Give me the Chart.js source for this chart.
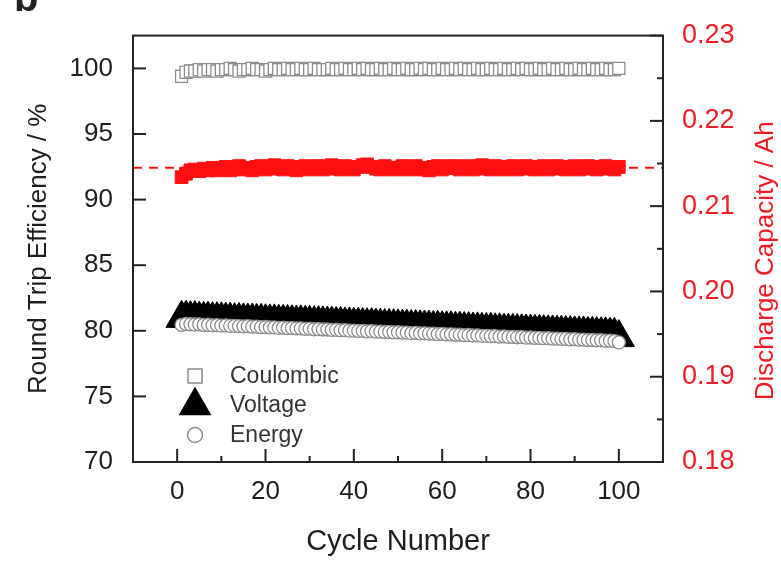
<!DOCTYPE html>
<html>
<head>
<meta charset="utf-8">
<title>Round trip efficiency</title>
<script src="https://cdn.jsdelivr.net/npm/chart.js@4.4.1/dist/chart.umd.min.js"></script>
<style>
  html, body { margin: 0; padding: 0; background: #fff; }
  #wrap { position: relative; width: 781px; height: 563px; overflow: hidden; }
  #panel { position: absolute; left: 14px; top: -25px; font: bold 40px 'Liberation Sans', Arial, sans-serif; color: #222; }
</style>
</head>
<body>
<div id="wrap">
  <canvas id="chart" width="781" height="563"></canvas>
  <div id="panel">b</div>
</div>
<script>
// --- data ---
const cycles = [
  1, 2, 3, 4, 5, 6, 7, 8, 9, 10, 11, 12, 13, 14, 15, 16, 17, 18, 19, 20,
  21, 22, 23, 24, 25, 26, 27, 28, 29, 30, 31, 32, 33, 34, 35, 36, 37, 38, 39, 40,
  41, 42, 43, 44, 45, 46, 47, 48, 49, 50, 51, 52, 53, 54, 55, 56, 57, 58, 59, 60,
  61, 62, 63, 64, 65, 66, 67, 68, 69, 70, 71, 72, 73, 74, 75, 76, 77, 78, 79, 80,
  81, 82, 83, 84, 85, 86, 87, 88, 89, 90, 91, 92, 93, 94, 95, 96, 97, 98, 99, 100
];

const coulombic = [
  99.4, 99.7, 99.8, 99.8, 99.9, 99.8, 99.9, 99.9, 99.8, 99.9,
  99.9, 100.0, 99.9, 99.8, 99.9, 99.9, 100.0, 99.9, 99.9, 99.8,
  99.9, 100.0, 99.9, 99.9, 100.0, 99.9, 99.9, 100.0, 99.9, 99.9,
  100.0, 99.9, 99.9, 99.9, 100.0, 99.9, 99.9, 100.0, 99.9, 99.9,
  100.0, 99.9, 100.0, 99.9, 99.9, 100.0, 99.9, 99.9, 100.0, 99.9,
  99.9, 100.0, 99.9, 99.9, 100.0, 99.9, 100.0, 99.9, 99.9, 100.0,
  99.9, 99.9, 100.0, 99.9, 100.0, 99.9, 99.9, 100.0, 99.9, 99.9,
  100.0, 99.9, 99.9, 100.0, 99.9, 99.9, 100.0, 99.9, 100.0, 99.9,
  99.9, 100.0, 99.9, 99.9, 100.0, 99.9, 99.9, 100.0, 99.9, 99.9,
  100.0, 99.9, 99.9, 100.0, 99.9, 99.9, 100.0, 99.9, 99.9, 100.0
];

const voltage = [
  80.95, 80.96, 80.92, 80.93, 80.89, 80.88, 80.89, 80.85, 80.84, 80.84,
  80.81, 80.81, 80.78, 80.79, 80.76, 80.74, 80.75, 80.71, 80.72, 80.69,
  80.68, 80.68, 80.65, 80.64, 80.64, 80.61, 80.60, 80.60, 80.57, 80.57,
  80.54, 80.55, 80.52, 80.51, 80.51, 80.48, 80.48, 80.45, 80.45, 80.42,
  80.43, 80.40, 80.39, 80.39, 80.36, 80.36, 80.33, 80.33, 80.31, 80.30,
  80.28, 80.28, 80.25, 80.25, 80.23, 80.21, 80.21, 80.18, 80.19, 80.16,
  80.15, 80.15, 80.12, 80.12, 80.09, 80.09, 80.06, 80.07, 80.04, 80.03,
  80.03, 80.00, 80.00, 79.97, 79.97, 79.95, 79.94, 79.93, 79.91, 79.91,
  79.88, 79.88, 79.86, 79.85, 79.84, 79.82, 79.82, 79.79, 79.80, 79.77,
  79.76, 79.76, 79.73, 79.73, 79.71, 79.70, 79.69, 79.67, 79.66, 79.48
];

const energy = [
  80.45, 80.52, 80.50, 80.48, 80.49, 80.45, 80.46, 80.42, 80.43, 80.40,
  80.41, 80.37, 80.38, 80.35, 80.34, 80.35, 80.31, 80.32, 80.28, 80.29,
  80.26, 80.26, 80.23, 80.24, 80.20, 80.21, 80.18, 80.18, 80.15, 80.16,
  80.12, 80.13, 80.10, 80.10, 80.07, 80.08, 80.04, 80.05, 80.02, 80.02,
  79.99, 80.00, 79.96, 79.97, 79.94, 79.94, 79.91, 79.92, 79.88, 79.89,
  79.86, 79.86, 79.83, 79.84, 79.80, 79.81, 79.78, 79.78, 79.75, 79.76,
  79.72, 79.73, 79.70, 79.70, 79.67, 79.68, 79.64, 79.65, 79.62, 79.62,
  79.59, 79.60, 79.56, 79.57, 79.54, 79.54, 79.51, 79.52, 79.48, 79.49,
  79.46, 79.46, 79.43, 79.44, 79.40, 79.41, 79.38, 79.38, 79.35, 79.36,
  79.32, 79.33, 79.30, 79.30, 79.27, 79.28, 79.24, 79.25, 79.22, 79.12
];

const capacity = [
  0.2134, 0.2138, 0.2142, 0.2143, 0.2141, 0.2144, 0.2142, 0.2145, 0.2142, 0.2144,
  0.2146, 0.2142, 0.2144, 0.2147, 0.2143, 0.2145, 0.2142, 0.2146, 0.2147, 0.2143,
  0.2145, 0.2148, 0.2144, 0.2143, 0.2147, 0.2145, 0.2142, 0.2146, 0.2147, 0.2143,
  0.2145, 0.2147, 0.2143, 0.2146, 0.2148, 0.2144, 0.2143, 0.2147, 0.2145, 0.2143,
  0.2146, 0.2148, 0.2149, 0.2146, 0.2144, 0.2143, 0.2147, 0.2145, 0.2143, 0.2145,
  0.2147, 0.2143, 0.2145, 0.2147, 0.2143, 0.2145, 0.2142, 0.2146, 0.2147, 0.2143,
  0.2145, 0.2147, 0.2145, 0.2143, 0.2147, 0.2145, 0.2143, 0.2147, 0.2148, 0.2144,
  0.2143, 0.2147, 0.2145, 0.2143, 0.2146, 0.2147, 0.2143, 0.2145, 0.2147, 0.2144,
  0.2143, 0.2146, 0.2147, 0.2143, 0.2145, 0.2147, 0.2144, 0.2143, 0.2146, 0.2147,
  0.2143, 0.2145, 0.2147, 0.2144, 0.2143, 0.2146, 0.2147, 0.2144, 0.2143, 0.2146
];

const capacityRef = 0.2145;          // dashed guide on right axis
const xLabels = [0, 20, 40, 60, 80, 100];
const yLabels = [70, 75, 80, 85, 90, 95, 100];
const y1Labels = [0.18, 0.19, 0.20, 0.21, 0.22, 0.23];

const FONT = "'Liberation Sans', Arial, sans-serif";
const RED = '#ff1010';
const RED_TEXT = '#ee1c25';
const INK = '#1e1e1e';

const pts = vals => cycles.map((c, i) => ({ x: c, y: vals[i] }));
const near = (v, list) => list.some(l => Math.abs(l - v) < 1e-6);

// inward ticks, frame, legend and right title
const decor = {
  id: 'decor',
  afterDraw(chart) {
    const { ctx, chartArea: a, scales } = chart;
    ctx.save();
    ctx.strokeStyle = '#222';
    ctx.lineWidth = 2;

    const seg = (x1, y1, x2, y2) => { ctx.beginPath(); ctx.moveTo(x1, y1); ctx.lineTo(x2, y2); ctx.stroke(); };

    scales.x.ticks.forEach(t => {
      if (t.value <= scales.x.min || t.value >= scales.x.max) return;
      const px = scales.x.getPixelForValue(t.value);
      const len = near(t.value, xLabels) ? 13 : 6;
      seg(px, a.bottom, px, a.bottom - len);
    });
    scales.y.ticks.forEach(t => {
      const py = scales.y.getPixelForValue(t.value);
      const len = near(t.value, yLabels) ? 13 : 6;
      seg(a.left, py, a.left + len, py);
    });
    scales.y1.ticks.forEach(t => {
      const py = scales.y1.getPixelForValue(t.value);
      const len = near(t.value, y1Labels) ? 13 : 6;
      seg(a.right, py, a.right - len, py);
    });

    ctx.strokeRect(a.left, a.top, a.right - a.left, a.bottom - a.top);

    // legend
    const lx = a.left + 62, tx = a.left + 97;
    const rows = [a.bottom - 86, a.bottom - 57, a.bottom - 27];
    ctx.lineWidth = 1.5;
    ctx.strokeStyle = '#8c8c8c';
    ctx.fillStyle = '#fff';
    ctx.fillRect(lx - 7, rows[0] - 7, 14, 14);
    ctx.strokeRect(lx - 7, rows[0] - 7, 14, 14);

    const r = 19;
    ctx.fillStyle = '#000';
    ctx.beginPath();
    ctx.moveTo(lx, rows[1] - r * 0.75 - 4);
    ctx.lineTo(lx + r * 0.866, rows[1] + r * 0.75 - 4);
    ctx.lineTo(lx - r * 0.866, rows[1] + r * 0.75 - 4);
    ctx.closePath();
    ctx.fill();

    ctx.fillStyle = '#fff';
    ctx.beginPath();
    ctx.arc(lx, rows[2], 7.5, 0, Math.PI * 2);
    ctx.fill();
    ctx.stroke();

    ctx.fillStyle = '#333';
    ctx.font = '23px ' + FONT;
    ctx.textBaseline = 'middle';
    ctx.textAlign = 'left';
    ctx.fillText('Coulombic', tx, rows[0] + 1);
    ctx.fillText('Voltage', tx, rows[1] + 1);
    ctx.fillText('Energy', tx, rows[2] + 1);

    // right axis title reads bottom to top
    ctx.translate(766, (a.top + a.bottom) / 2 + 12);
    ctx.rotate(-Math.PI / 2);
    ctx.fillStyle = RED_TEXT;
    ctx.font = '26px ' + FONT;
    ctx.textAlign = 'center';
    ctx.fillText('Discharge Capacity / Ah', 0, 0);
    ctx.restore();
  }
};

new Chart(document.getElementById('chart'), {
  type: 'line',
  data: {
    datasets: [
      {
        label: 'Coulombic', data: pts(coulombic), yAxisID: 'y', showLine: false,
        pointStyle: 'rect', pointRadius: 8.5, pointBackgroundColor: '#fff',
        pointBorderColor: '#8c8c8c', pointBorderWidth: 1.3, order: 2
      },
      {
        label: 'Voltage', data: pts(voltage), yAxisID: 'y', showLine: false,
        pointStyle: 'triangle', pointRadius: 18, pointBackgroundColor: '#000',
        pointBorderColor: '#000', pointBorderWidth: 1, order: 4
      },
      {
        label: 'Energy', data: pts(energy), yAxisID: 'y', showLine: false,
        pointStyle: 'circle', pointRadius: 6.5, pointBackgroundColor: '#fff',
        pointBorderColor: '#8c8c8c', pointBorderWidth: 1.3, order: 3
      },
      {
        label: 'Discharge Capacity', data: pts(capacity), yAxisID: 'y1', showLine: false,
        pointStyle: 'rect', pointRadius: 9, pointBackgroundColor: RED,
        pointBorderColor: RED, pointBorderWidth: 1, order: 1
      },
      {
        label: 'guide', yAxisID: 'y1',
        data: [{ x: -10, y: capacityRef }, { x: 110, y: capacityRef }],
        borderColor: RED, borderWidth: 2, borderDash: [9, 7], pointRadius: 0, order: 5
      }
    ]
  },
  options: {
    responsive: false,
    animation: false,
    layout: { padding: { top: 34, left: 0, right: 0, bottom: 0 } },
    plugins: { legend: { display: false }, tooltip: { enabled: false } },
    scales: {
      x: {
        type: 'linear', min: -10, max: 110,
        grid: { display: false, drawTicks: false }, border: { display: false },
        ticks: {
          stepSize: 10, padding: 14, color: INK, font: { family: FONT, size: 26 },
          maxRotation: 0, minRotation: 0, autoSkip: false,
          callback: v => near(v, xLabels) ? String(v) : ''
        },
        title: {
          display: true, text: 'Cycle Number', color: INK,
          font: { family: FONT, size: 29 }, padding: { top: 0, bottom: 4 }
        },
        afterFit: s => { s.height = 101; }
      },
      y: {
        position: 'left', min: 70, max: 102.5,
        grid: { display: false, drawTicks: false }, border: { display: false },
        ticks: {
          stepSize: 2.5, padding: 20, color: INK, font: { family: FONT, size: 26 },
          callback: v => near(v, yLabels) ? String(v) : ''
        },
        title: {
          display: true, text: 'Round Trip Efficiency / %', color: INK,
          font: { family: FONT, size: 26 }, padding: { top: 23, bottom: 0 }
        },
        afterFit: s => { s.width = 133; }
      },
      y1: {
        position: 'right', min: 0.18, max: 0.23,
        grid: { display: false, drawTicks: false }, border: { display: false },
        ticks: {
          stepSize: 0.005, padding: 19, color: RED_TEXT, font: { family: FONT, size: 27 },
          callback: v => near(v, y1Labels) ? v.toFixed(2) : ''
        },
        afterFit: s => { s.width = 118; }
      }
    }
  },
  plugins: [decor]
});
</script>
</body>
</html>
